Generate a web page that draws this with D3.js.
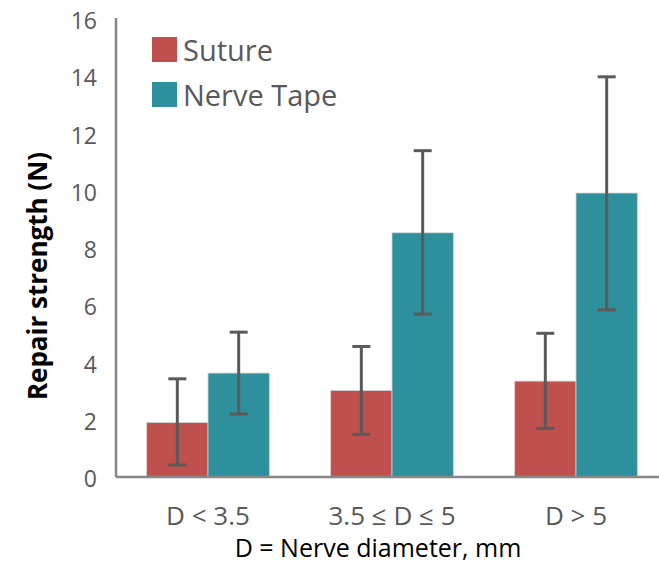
<!DOCTYPE html>
<html lang="en">
<head>
    <meta charset="UTF-8">
    <title>Repair strength</title>
    <script src="https://d3js.org/d3.v7.min.js"></script>
    <style>
        body { margin: 0; background: #fff; }
        svg { font-family: "Open Sans", sans-serif; }
        .tick-label { fill: #595959; font-size: 23px; }
        .cat-label { fill: #595959; font-size: 26px; }
        .axis-title { fill: #000; font-size: 25px; }
        .legend text { fill: #595959; font-size: 29px; }
    </style>
</head>
<body>
    <div id="chart"></div>

    <script>
        // data
        const categories = ["D < 3.5", "3.5 \u2264 D \u2264 5", "D > 5"];
        const seriesNames = ["Suture", "Nerve Tape"];
        const sutureMean = [1.9, 3.02, 3.35];
        const sutureLow = [0.42, 1.49, 1.70];
        const sutureHigh = [3.43, 4.56, 5.02];
        const tapeMean = [3.63, 8.53, 9.92];
        const tapeLow = [2.2, 5.69, 5.84];
        const tapeHigh = [5.06, 11.4, 13.98];
        const yTicks = [0, 2, 4, 6, 8, 10, 12, 14, 16];
        const colors = ["#C0504D", "#2E8F9D"];

        const width = 659, height = 565;
        const plotLeft = 116, plotRight = 668, plotTop = 19, plotBottom = 477;

        const svg = d3.select("#chart").append("svg")
            .attr("width", width)
            .attr("height", height);

        const x0 = d3.scaleBand().domain(categories).range([plotLeft, plotRight]).padding(0);
        const x1 = d3.scaleBand().domain(seriesNames).range([0, x0.bandwidth()])
            .paddingInner(0).paddingOuter(0.5);
        const y = d3.scaleLinear().domain([0, 16]).range([plotBottom, plotTop]);

        const rows = [];
        categories.forEach((c, i) => {
            rows.push({cat: c, s: seriesNames[0], v: sutureMean[i], lo: sutureLow[i], hi: sutureHigh[i], col: colors[0]});
            rows.push({cat: c, s: seriesNames[1], v: tapeMean[i], lo: tapeLow[i], hi: tapeHigh[i], col: colors[1]});
        });

        // bars
        svg.selectAll("rect.bar")
            .data(rows)
            .enter().append("rect")
            .attr("class", "bar")
            .attr("x", d => x0(d.cat) + x1(d.s))
            .attr("width", x1.bandwidth())
            .attr("y", d => y(d.v))
            .attr("height", d => y(0) - y(d.v))
            .attr("fill", d => d.col)
            .attr("stroke", "#d0d0d0")
            .attr("stroke-width", 0.8);

        // axes lines
        svg.append("line")
            .attr("x1", plotLeft).attr("x2", width)
            .attr("y1", y(0)).attr("y2", y(0))
            .attr("stroke", "#878787").attr("stroke-width", 2.5);
        svg.append("line")
            .attr("x1", plotLeft).attr("x2", plotLeft)
            .attr("y1", plotTop - 1).attr("y2", y(0))
            .attr("stroke", "#878787").attr("stroke-width", 2.5);

        // error bars
        const eb = svg.selectAll("g.err")
            .data(rows)
            .enter().append("g")
            .attr("class", "err")
            .attr("transform", d => `translate(${x0(d.cat) + x1(d.s) + x1.bandwidth() / 2},0)`)
            .attr("stroke", "#5a5a5a")
            .attr("stroke-width", 3);
        eb.append("line").attr("y1", d => y(d.lo)).attr("y2", d => y(d.hi));
        eb.append("line").attr("x1", -9).attr("x2", 9).attr("y1", d => y(d.lo)).attr("y2", d => y(d.lo));
        eb.append("line").attr("x1", -9).attr("x2", 9).attr("y1", d => y(d.hi)).attr("y2", d => y(d.hi));

        // y tick labels
        svg.selectAll("text.tick-label")
            .data(yTicks)
            .enter().append("text")
            .attr("class", "tick-label")
            .attr("x", 97)
            .attr("y", d => y(d) + 2)
            .attr("dy", "0.35em")
            .attr("text-anchor", "end")
            .text(d => d);

        // category labels
        svg.selectAll("text.cat-label")
            .data(categories)
            .enter().append("text")
            .attr("class", "cat-label")
            .attr("x", d => x0(d) + x0.bandwidth() / 2)
            .attr("y", 525)
            .attr("text-anchor", "middle")
            .text(d => d);

        svg.append("text")
            .attr("class", "axis-title")
            .attr("x", 378)
            .attr("y", 557)
            .attr("text-anchor", "middle")
            .text("D = Nerve diameter, mm");

        svg.append("text")
            .attr("class", "axis-title")
            .attr("transform", "translate(47,276) rotate(-90)")
            .attr("text-anchor", "middle")
            .attr("font-weight", "bold")
            .style("font-size", "26px")
            .text("Repair strength (N)");

        // legend
        const legend = svg.append("g").attr("class", "legend");
        seriesNames.forEach((s, i) => {
            const g = legend.append("g").attr("transform", `translate(152,${37 + i * 45})`);
            g.append("rect").attr("width", 25).attr("height", 25).attr("fill", colors[i]);
            g.append("text").attr("x", 31).attr("y", 24).text(s);
        });
    </script>
</body>
</html>
